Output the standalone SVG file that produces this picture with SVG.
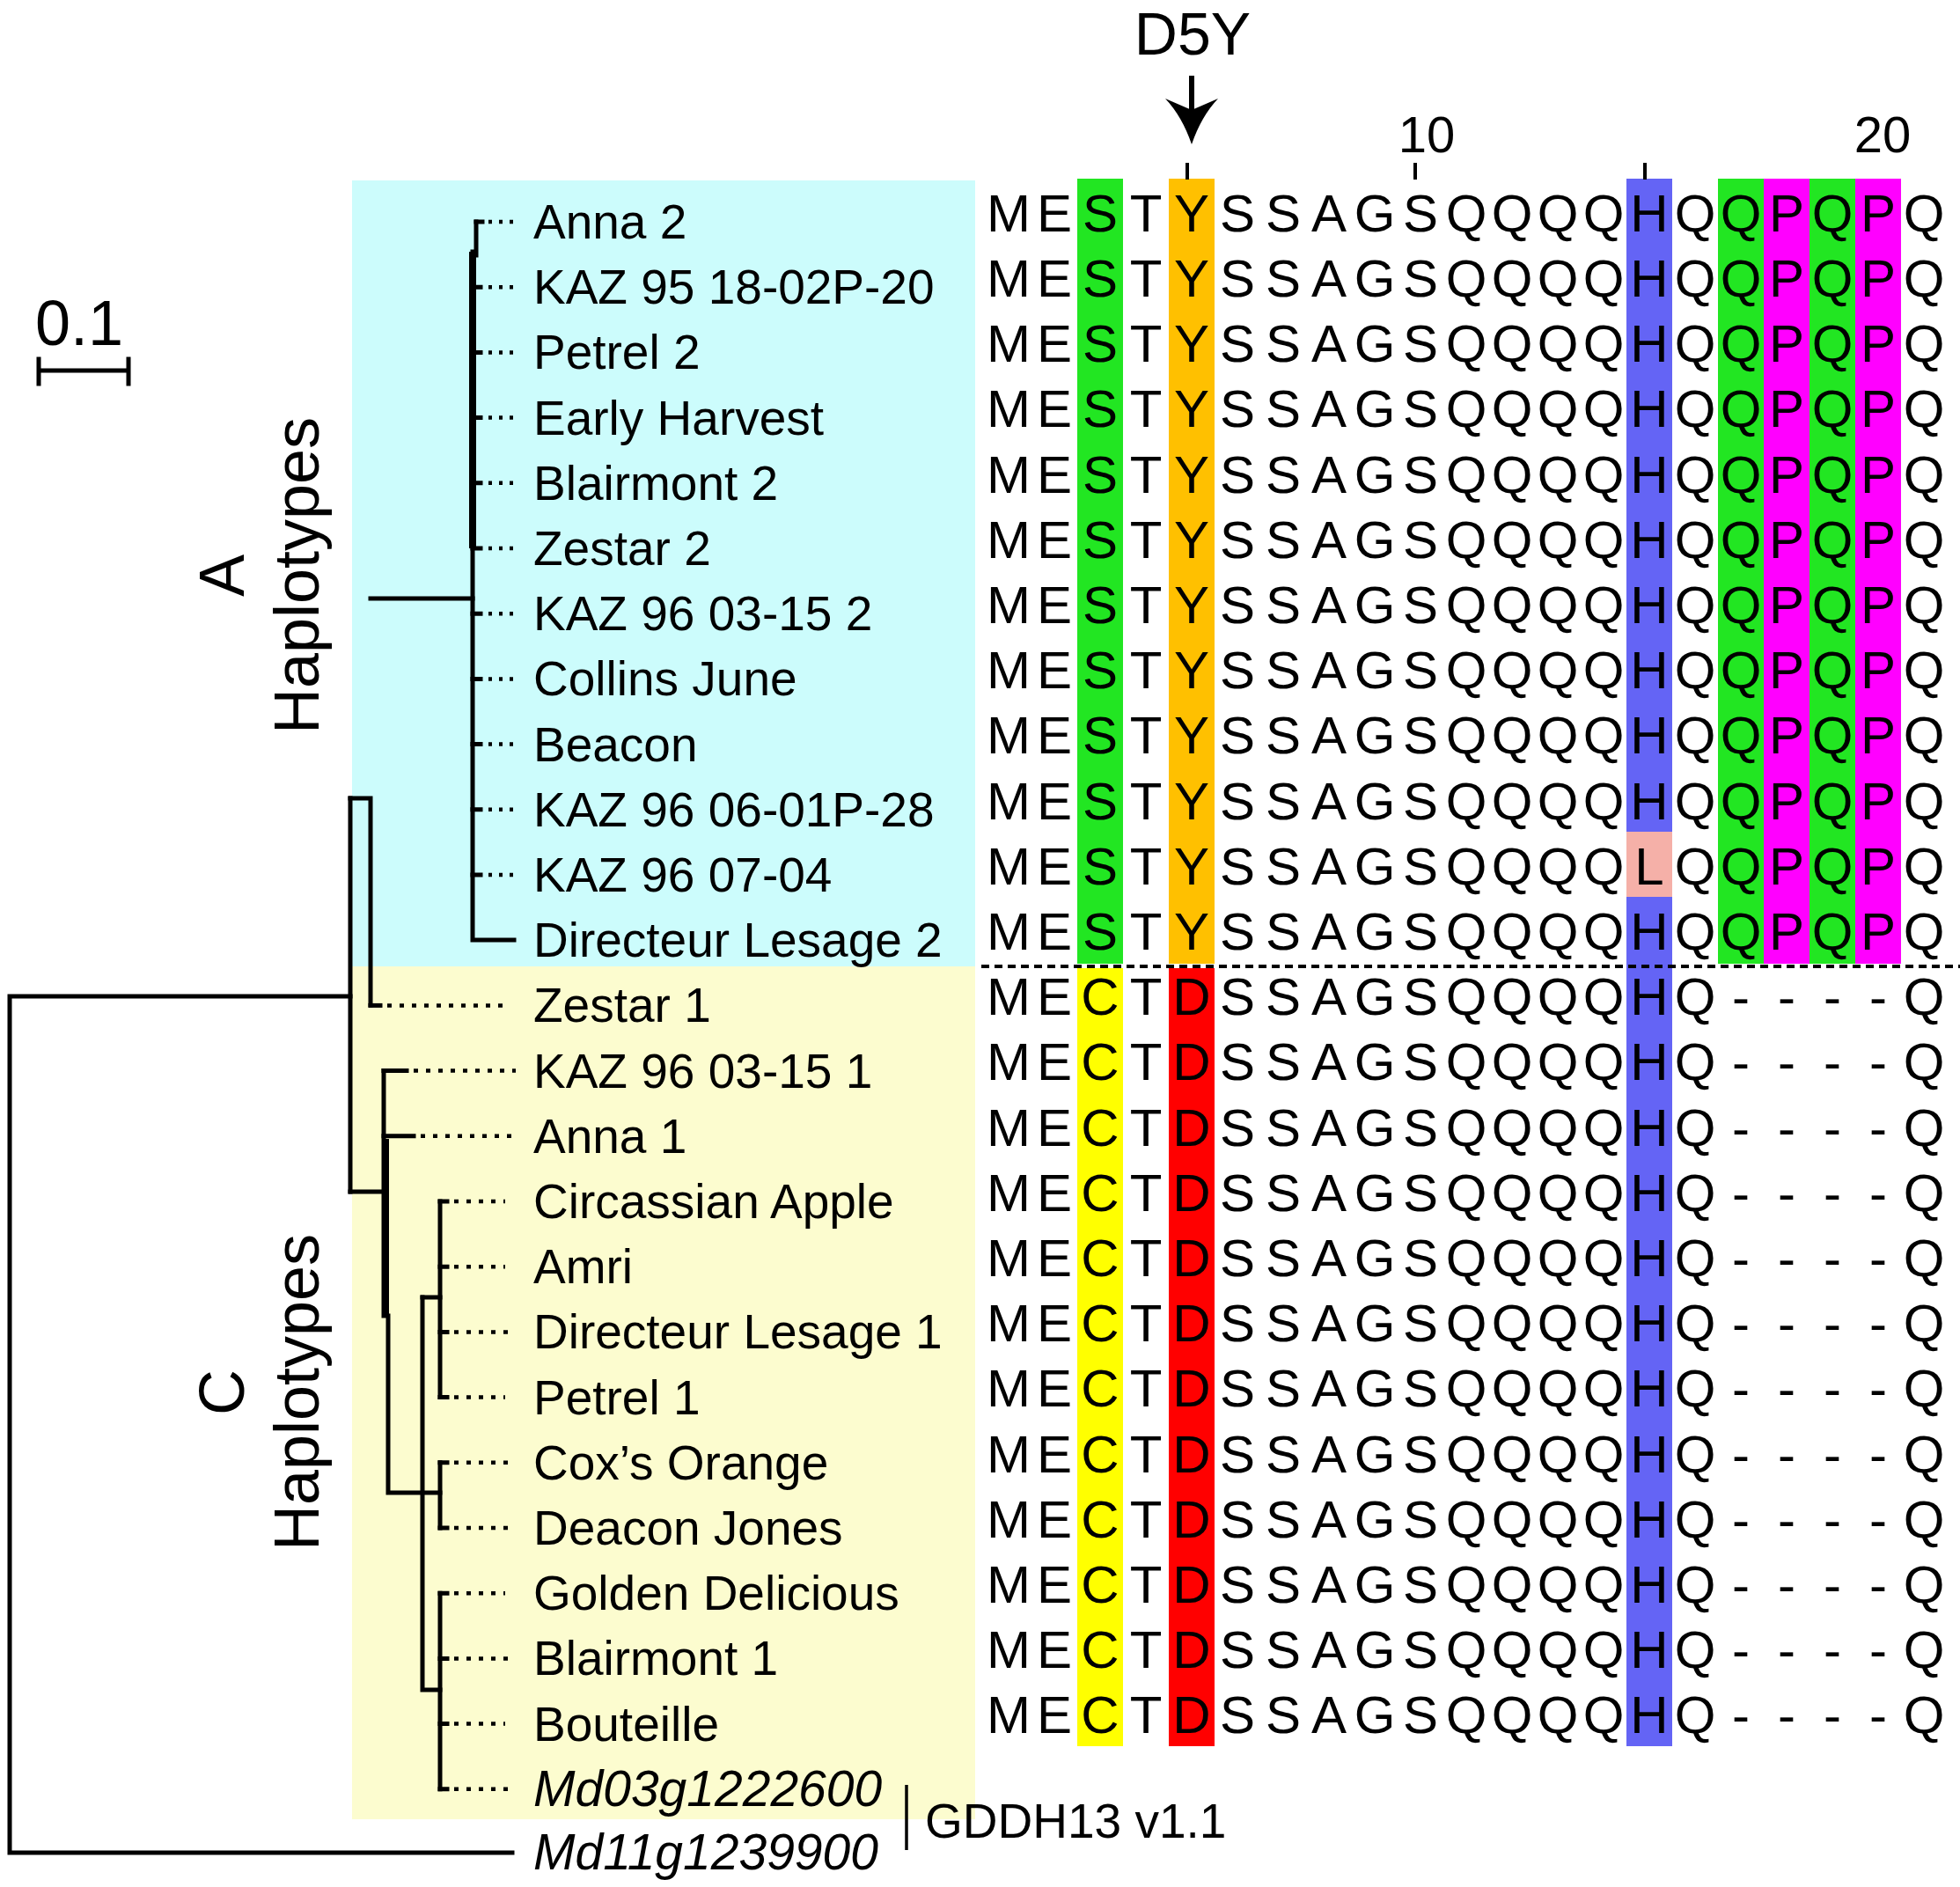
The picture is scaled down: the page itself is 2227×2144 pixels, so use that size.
<svg xmlns="http://www.w3.org/2000/svg" width="2227" height="2144" viewBox="0 0 2227 2144">
<style>
.lbl{font-family:"Liberation Sans",Arial,sans-serif;font-size:55px;fill:#000}
.it{font-style:italic;font-size:57px}
.seq{font-family:"Liberation Sans",Arial,sans-serif;font-size:60px;fill:#000;text-anchor:middle}
.big{font-family:"Liberation Sans",Arial,sans-serif;font-size:72px;fill:#000;text-anchor:middle}
.num{font-family:"Liberation Sans",Arial,sans-serif;font-size:58px;fill:#000;text-anchor:middle}
.br{stroke:#000;stroke-width:5;fill:none;stroke-linecap:square}
.thk{stroke:#000;stroke-width:8;fill:none}
.dA{stroke:#000;stroke-width:4.5;fill:none;stroke-dasharray:4 8}
.dC{stroke:#000;stroke-width:4.5;fill:none;stroke-dasharray:5 9}
.tick{stroke:#000;stroke-width:4}
</style>
<rect width="2227" height="2144" fill="#fff"/>
<!-- backgrounds -->
<rect x="400" y="205" width="708" height="893" fill="#ccfcfc"/>
<rect x="400" y="1098" width="708" height="969" fill="#fcfccf"/>

<!-- alignment colour columns -->
<g id="alignment-colours">
<rect x="1224" y="203" width="52" height="892" fill="#22e622"/>
<rect x="1328" y="203" width="52" height="892" fill="#ffc000"/>
<rect x="1848" y="203" width="52" height="1781" fill="#6464f5"/>
<rect x="1848" y="945" width="52" height="74" fill="#f5b0a8"/>
<rect x="1952" y="203" width="52" height="892" fill="#22e622"/>
<rect x="2004" y="203" width="52" height="892" fill="#f0f"/>
<rect x="2056" y="203" width="52" height="892" fill="#22e622"/>
<rect x="2108" y="203" width="52" height="892" fill="#f0f"/>
<rect x="1224" y="1100" width="52" height="884" fill="#ffff00"/>
<rect x="1328" y="1100" width="52" height="884" fill="#f00"/>
</g>
<line x1="1115" y1="1098" x2="2227" y2="1098" stroke="#000" stroke-width="4" stroke-dasharray="9 6"/>

<!-- header -->
<g id="header">
<text class="big" x="1355" y="62" style="font-size:68px">D5Y</text>
<line x1="1354" y1="86" x2="1354" y2="128" stroke="#000" stroke-width="6"/>
<path d="M1354 164 Q1343 132 1324 112 L1354 125 L1384 112 Q1365 132 1354 164 Z" fill="#000"/>
<text class="num" x="1621" y="173">10</text>
<text class="num" x="2139" y="173">20</text>
<line class="tick" x1="1349" y1="185" x2="1349" y2="204"/>
<line class="tick" x1="1608" y1="185" x2="1608" y2="204"/>
<line class="tick" x1="1869" y1="185" x2="1869" y2="204"/>
</g>

<!-- sequences -->
<g id="sequences">
<text class="seq" y="262.7" x="1146 1198 1250 1302 1354 1406 1458 1510 1562 1614 1666 1718 1770 1822 1874 1926 1978 2030 2082 2134 2186">MESTYSSAGSQQQQHQQPQPQ</text>
<text class="seq" y="336.9" x="1146 1198 1250 1302 1354 1406 1458 1510 1562 1614 1666 1718 1770 1822 1874 1926 1978 2030 2082 2134 2186">MESTYSSAGSQQQQHQQPQPQ</text>
<text class="seq" y="411.1" x="1146 1198 1250 1302 1354 1406 1458 1510 1562 1614 1666 1718 1770 1822 1874 1926 1978 2030 2082 2134 2186">MESTYSSAGSQQQQHQQPQPQ</text>
<text class="seq" y="485.3" x="1146 1198 1250 1302 1354 1406 1458 1510 1562 1614 1666 1718 1770 1822 1874 1926 1978 2030 2082 2134 2186">MESTYSSAGSQQQQHQQPQPQ</text>
<text class="seq" y="559.5" x="1146 1198 1250 1302 1354 1406 1458 1510 1562 1614 1666 1718 1770 1822 1874 1926 1978 2030 2082 2134 2186">MESTYSSAGSQQQQHQQPQPQ</text>
<text class="seq" y="633.7" x="1146 1198 1250 1302 1354 1406 1458 1510 1562 1614 1666 1718 1770 1822 1874 1926 1978 2030 2082 2134 2186">MESTYSSAGSQQQQHQQPQPQ</text>
<text class="seq" y="707.9" x="1146 1198 1250 1302 1354 1406 1458 1510 1562 1614 1666 1718 1770 1822 1874 1926 1978 2030 2082 2134 2186">MESTYSSAGSQQQQHQQPQPQ</text>
<text class="seq" y="782.1" x="1146 1198 1250 1302 1354 1406 1458 1510 1562 1614 1666 1718 1770 1822 1874 1926 1978 2030 2082 2134 2186">MESTYSSAGSQQQQHQQPQPQ</text>
<text class="seq" y="856.3" x="1146 1198 1250 1302 1354 1406 1458 1510 1562 1614 1666 1718 1770 1822 1874 1926 1978 2030 2082 2134 2186">MESTYSSAGSQQQQHQQPQPQ</text>
<text class="seq" y="930.5" x="1146 1198 1250 1302 1354 1406 1458 1510 1562 1614 1666 1718 1770 1822 1874 1926 1978 2030 2082 2134 2186">MESTYSSAGSQQQQHQQPQPQ</text>
<text class="seq" y="1004.7" x="1146 1198 1250 1302 1354 1406 1458 1510 1562 1614 1666 1718 1770 1822 1874 1926 1978 2030 2082 2134 2186">MESTYSSAGSQQQQLQQPQPQ</text>
<text class="seq" y="1078.9" x="1146 1198 1250 1302 1354 1406 1458 1510 1562 1614 1666 1718 1770 1822 1874 1926 1978 2030 2082 2134 2186">MESTYSSAGSQQQQHQQPQPQ</text>
<text class="seq" y="1153.1" x="1146 1198 1250 1302 1354 1406 1458 1510 1562 1614 1666 1718 1770 1822 1874 1926 1978 2030 2082 2134 2186">MECTDSSAGSQQQQHQ----Q</text>
<text class="seq" y="1227.3" x="1146 1198 1250 1302 1354 1406 1458 1510 1562 1614 1666 1718 1770 1822 1874 1926 1978 2030 2082 2134 2186">MECTDSSAGSQQQQHQ----Q</text>
<text class="seq" y="1301.5" x="1146 1198 1250 1302 1354 1406 1458 1510 1562 1614 1666 1718 1770 1822 1874 1926 1978 2030 2082 2134 2186">MECTDSSAGSQQQQHQ----Q</text>
<text class="seq" y="1375.7" x="1146 1198 1250 1302 1354 1406 1458 1510 1562 1614 1666 1718 1770 1822 1874 1926 1978 2030 2082 2134 2186">MECTDSSAGSQQQQHQ----Q</text>
<text class="seq" y="1449.9" x="1146 1198 1250 1302 1354 1406 1458 1510 1562 1614 1666 1718 1770 1822 1874 1926 1978 2030 2082 2134 2186">MECTDSSAGSQQQQHQ----Q</text>
<text class="seq" y="1524.1" x="1146 1198 1250 1302 1354 1406 1458 1510 1562 1614 1666 1718 1770 1822 1874 1926 1978 2030 2082 2134 2186">MECTDSSAGSQQQQHQ----Q</text>
<text class="seq" y="1598.3" x="1146 1198 1250 1302 1354 1406 1458 1510 1562 1614 1666 1718 1770 1822 1874 1926 1978 2030 2082 2134 2186">MECTDSSAGSQQQQHQ----Q</text>
<text class="seq" y="1672.5" x="1146 1198 1250 1302 1354 1406 1458 1510 1562 1614 1666 1718 1770 1822 1874 1926 1978 2030 2082 2134 2186">MECTDSSAGSQQQQHQ----Q</text>
<text class="seq" y="1746.7" x="1146 1198 1250 1302 1354 1406 1458 1510 1562 1614 1666 1718 1770 1822 1874 1926 1978 2030 2082 2134 2186">MECTDSSAGSQQQQHQ----Q</text>
<text class="seq" y="1820.9" x="1146 1198 1250 1302 1354 1406 1458 1510 1562 1614 1666 1718 1770 1822 1874 1926 1978 2030 2082 2134 2186">MECTDSSAGSQQQQHQ----Q</text>
<text class="seq" y="1895.1" x="1146 1198 1250 1302 1354 1406 1458 1510 1562 1614 1666 1718 1770 1822 1874 1926 1978 2030 2082 2134 2186">MECTDSSAGSQQQQHQ----Q</text>
<text class="seq" y="1969.3" x="1146 1198 1250 1302 1354 1406 1458 1510 1562 1614 1666 1718 1770 1822 1874 1926 1978 2030 2082 2134 2186">MECTDSSAGSQQQQHQ----Q</text>
</g>

<!-- scale bar -->
<g id="scale-bar">
<text class="big" x="90" y="392" style="font-size:72px">0.1</text>
<path class="br" d="M44 421 H146 M44 408 V436 M146 408 V436"/>
</g>

<!-- clade labels -->
<g id="clade-A">
<text class="big" transform="translate(277,654) rotate(-90)" x="0" y="0">A</text>
<text class="big" transform="translate(362,654) rotate(-90)" x="0" y="0">Haplotypes</text>
</g>
<g id="clade-C">
<text class="big" transform="translate(277,1582) rotate(-90)" x="0" y="0">C</text>
<text class="big" transform="translate(362,1582) rotate(-90)" x="0" y="0">Haplotypes</text>
</g>

<!-- connectors (tree) -->
<g id="connectors">
<!-- root -->
<path class="br" d="M398 1132 H11 V2105 H582"/>
<path class="br" d="M398 907 V1354"/>
<path class="br" d="M398 907 H421 V1142"/>
<!-- A clade -->
<path class="br" d="M421 680 H537"/>
<path class="br" d="M537 286 V1068 H584"/>
<path class="thk" d="M537 286 V623"/>
<path class="br" d="M541 252 V290"/>
<path class="br" d="M541 252 H548"/>
<path class="br" d="M537 326.2 H546 M537 400.4 H546 M537 474.6 H546 M537 548.8 H546 M537 623 H546 M537 697.2 H546 M537 771.4 H546 M537 845.6 H546 M537 919.8 H546 M537 994 H546"/>
<path class="dA" d="M555 252 H584 M555 326.2 H584 M555 400.4 H584 M555 474.6 H584 M555 548.8 H584 M555 623 H584 M555 697.2 H584 M555 771.4 H584 M555 845.6 H584 M555 919.8 H584 M555 994 H584"/>
<!-- Zestar 1 -->
<path class="br" d="M421 1142.4 H432"/>
<path class="dC" d="M440 1142.4 H576"/>
<!-- C clade -->
<path class="br" d="M398 1354 H436"/>
<path class="br" d="M436 1216.6 V1495 H441 V1696 H500"/>
<path class="thk" d="M438 1294 V1494"/>
<path class="br" d="M436 1216.6 H462 M436 1290.8 H470"/>
<path class="dC" d="M470 1216.6 H586 M478 1290.8 H586"/>
<path class="br" d="M480 1474 V1920 H500"/>
<path class="br" d="M480 1474 H500"/>
<path class="br" d="M500 1365 V1587.6 M500 1661.8 V1736 M500 1810.2 V2032.8"/>
<path class="br" d="M500 1365 H508 M500 1439.2 H508 M500 1513.4 H508 M500 1587.6 H508 M500 1661.8 H508 M500 1736 H508 M500 1810.2 H508 M500 1884.4 H508 M500 1958.6 H508 M500 2032.8 H508"/>
<path class="dC" d="M516 1365 H574 M516 1439.2 H574 M516 1513.4 H586 M516 1587.6 H574 M516 1661.8 H586 M516 1736 H586 M516 1810.2 H574 M516 1884.4 H586 M516 1958.6 H574 M516 2032.8 H586"/>
<!-- GDDH13 bracket -->
<line x1="1030" y1="2028" x2="1030" y2="2102" stroke="#000" stroke-width="3.5"/>
</g>

<!-- leaf nodes -->
<g id="n-anna2"><text class="lbl" x="606" y="271">Anna 2</text></g>
<g id="n-kaz95"><text class="lbl" x="606" y="345.2">KAZ 95 18-02P-20</text></g>
<g id="n-petrel2"><text class="lbl" x="606" y="419.4">Petrel 2</text></g>
<g id="n-earlyharvest"><text class="lbl" x="606" y="493.6">Early Harvest</text></g>
<g id="n-blairmont2"><text class="lbl" x="606" y="567.8">Blairmont 2</text></g>
<g id="n-zestar2"><text class="lbl" x="606" y="642">Zestar 2</text></g>
<g id="n-kaz96-0315-2"><text class="lbl" x="606" y="716.2">KAZ 96 03-15 2</text></g>
<g id="n-collinsjune"><text class="lbl" x="606" y="790.4">Collins June</text></g>
<g id="n-beacon"><text class="lbl" x="606" y="864.6">Beacon</text></g>
<g id="n-kaz96-0601"><text class="lbl" x="606" y="938.8">KAZ 96 06-01P-28</text></g>
<g id="n-kaz96-0704"><text class="lbl" x="606" y="1013">KAZ 96 07-04</text></g>
<g id="n-dl2"><text class="lbl" x="606" y="1087.2">Directeur Lesage 2</text></g>
<g id="n-zestar1"><text class="lbl" x="606" y="1161.4">Zestar 1</text></g>
<g id="n-kaz96-0315-1"><text class="lbl" x="606" y="1235.6">KAZ 96 03-15 1</text></g>
<g id="n-anna1"><text class="lbl" x="606" y="1309.8">Anna 1</text></g>
<g id="n-circassian"><text class="lbl" x="606" y="1384">Circassian Apple</text></g>
<g id="n-amri"><text class="lbl" x="606" y="1458.2">Amri</text></g>
<g id="n-dl1"><text class="lbl" x="606" y="1532.4">Directeur Lesage 1</text></g>
<g id="n-petrel1"><text class="lbl" x="606" y="1606.6">Petrel 1</text></g>
<g id="n-cox"><text class="lbl" x="606" y="1680.8">Cox’s Orange</text></g>
<g id="n-deacon"><text class="lbl" x="606" y="1755">Deacon Jones</text></g>
<g id="n-golden"><text class="lbl" x="606" y="1829.2">Golden Delicious</text></g>
<g id="n-blairmont1"><text class="lbl" x="606" y="1903.4">Blairmont 1</text></g>
<g id="n-bouteille"><text class="lbl" x="606" y="1977.6">Bouteille</text></g>
<g id="n-md03"><text class="lbl it" x="606" y="2051.8">Md03g1222600</text></g>
<g id="n-md11"><text class="lbl it" x="606" y="2124">Md11g1239900</text></g>
<g id="n-gddh13"><text class="lbl" x="1051" y="2088">GDDH13 v1.1</text></g>
</svg>
